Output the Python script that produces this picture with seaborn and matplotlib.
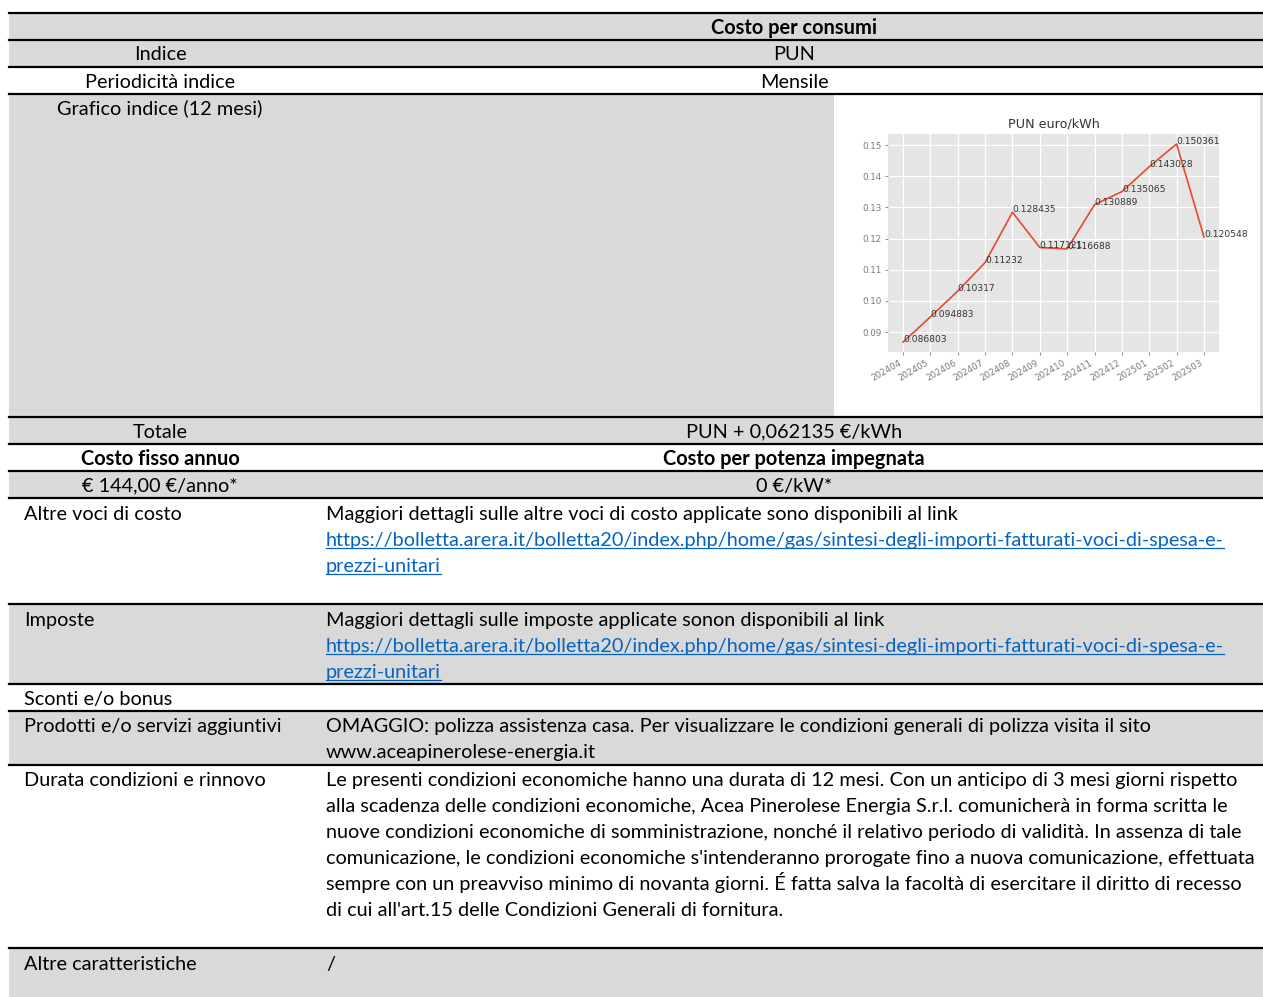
import matplotlib
matplotlib.use("Agg")
import matplotlib.pyplot as plt
import numpy as np
import pandas as pd
import seaborn as sns
from matplotlib.patches import Rectangle
from matplotlib.lines import Line2D

# ---------------- data ----------------
months = ["202404", "202405", "202406", "202407", "202408", "202409",
          "202410", "202411", "202412", "202501", "202502", "202503"]
pun = [0.086803, 0.094883, 0.10317, 0.11232, 0.128435, 0.117121,
       0.116688, 0.130889, 0.135065, 0.143028, 0.150361, 0.120548]
chart_title = "PUN euro/kWh"

header_right = "Costo per consumi"
centered_rows = [("Indice", "PUN"), ("Periodicità indice", "Mensile")]
graph_label = "Grafico indice (12 mesi)"
totale = ("Totale", "PUN + 0,062135 €/kWh")
bold_row = ("Costo fisso annuo", "Costo per potenza impegnata")
fixed_row = ("€ 144,00 €/anno*", "0 €/kW*")
link = "https://bolletta.arera.it/bolletta20/index.php/home/gas/sintesi-degli-importi-fatturati-voci-di-spesa-e-"
link2 = "prezzi-unitari"
altre_voci = ("Altre voci di costo",
              "Maggiori dettagli sulle altre voci di costo applicate sono disponibili al link")
imposte = ("Imposte", "Maggiori dettagli sulle imposte applicate sonon disponibili al link")
sconti = "Sconti e/o bonus"
prodotti = ("Prodotti e/o servizi aggiuntivi",
            ["OMAGGIO: polizza assistenza casa. Per visualizzare le condizioni generali di polizza visita il sito",
             "www.aceapinerolese-energia.it"])
durata = ("Durata condizioni e rinnovo",
          ["Le presenti condizioni economiche hanno una durata di 12 mesi. Con un anticipo di 3 mesi giorni rispetto",
           "alla scadenza delle condizioni economiche, Acea Pinerolese Energia S.r.l. comunicherà in forma scritta le",
           "nuove condizioni economiche di somministrazione, nonché il relativo periodo di validità. In assenza di tale",
           "comunicazione, le condizioni economiche s'intenderanno prorogate fino a nuova comunicazione, effettuata",
           "sempre con un preavviso minimo di novanta giorni. É fatta salva la facoltà di esercitare il diritto di recesso",
           "di cui all'art.15 delle Condizioni Generali di fornitura."])
altre_car = ("Altre caratteristiche", "/")

# ---------------- figure ----------------
W, H = 1263, 997
fig = plt.figure(figsize=(W / 100, H / 100), dpi=100)
ax = fig.add_axes([0, 0, 1, 1])
ax.set_xlim(0, W)
ax.set_ylim(H, 0)
ax.axis("off")

FONT = ["Lato", "DejaVu Sans"]
GREY = "#d9d9d9"
LINK = "#0563c1"

fig.canvas.draw()
R = fig.canvas.get_renderer()


def fit(s, target, weight="normal"):
    t = ax.text(0, 0, s, fontsize=10, family=FONT, fontweight=weight)
    w = t.get_window_extent(R).width
    t.remove()
    return 10 * target / w


FS = fit(altre_voci[1], 631)
FSB = fit(bold_row[1], 261, "bold")

# rows: (top, bottom, grey?)
rows = [(13, 40, True), (40, 67, True), (67, 94, False), (94, 417, True),
        (417, 444, True), (444, 471, False), (471, 498, True), (498, 604, False),
        (604, 684, True), (684, 711, False), (711, 765, True), (765, 948, False),
        (948, 997, True)]
X0, X1 = 9, 1263
for top, bot, g in rows:
    if g:
        ax.add_patch(Rectangle((X0, top), X1 - X0, bot - top, facecolor=GREY,
                               edgecolor="none", zorder=0))
# chart image area (white)
ax.add_patch(Rectangle((834, 95), 426, 321, facecolor="white", edgecolor="none", zorder=1))
for top, bot, g in rows:
    ax.add_line(Line2D([X0, X1], [top, top], color="black", lw=1.6, zorder=3))

LC, RC = 160, 794   # column centres
LX, RX = 24, 326    # left text positions
BOFF = 6.5          # baseline offset from line centre


def put(x, yc, s, ha="center", bold=False, color="#000000", underline=False):
    t = ax.text(x, yc + BOFF, s, ha=ha, va="baseline", family=FONT,
                fontsize=FSB if bold else FS, fontweight="bold" if bold else "normal",
                color=color, zorder=4)
    if underline:
        bb = t.get_window_extent(R)
        inv = ax.transData.inverted()
        (xa, _), (xb, _) = inv.transform([(bb.x0, 0), (bb.x1, 0)])
        ax.add_line(Line2D([xa, xb], [yc + BOFF + 2.2, yc + BOFF + 2.2], color=color, lw=0.9, zorder=4))
    return t


put(RC, 27, header_right, bold=True)
put(LC, 54, centered_rows[0][0]); put(RC, 54, centered_rows[0][1])
put(LC, 81, centered_rows[1][0]); put(RC, 81, centered_rows[1][1])
put(LC, 108, graph_label)
put(LC, 431, totale[0]); put(RC, 431, totale[1])
put(LC, 458, bold_row[0], bold=True); put(RC, 458, bold_row[1], bold=True)
put(LC, 485, fixed_row[0]); put(RC, 485, fixed_row[1])

put(LX, 513, altre_voci[0], ha="left")
put(RX, 513, altre_voci[1], ha="left")
put(RX, 539, link, ha="left", color=LINK, underline=True)
put(RX, 565, link2, ha="left", color=LINK, underline=True)

put(LX, 619, imposte[0], ha="left")
put(RX, 619, imposte[1], ha="left")
put(RX, 645, link, ha="left", color=LINK, underline=True)
put(RX, 671, link2, ha="left", color=LINK, underline=True)

put(LX, 698, sconti, ha="left")

put(LX, 725, prodotti[0], ha="left")
for i, s in enumerate(prodotti[1]):
    put(RX, 725 + 26 * i, s, ha="left")

put(LX, 779, durata[0], ha="left")
for i, s in enumerate(durata[1]):
    put(RX, 779 + 26 * i, s, ha="left")

put(LX, 963, altre_car[0], ha="left")
put(RX, 963, altre_car[1], ha="left")

# ---------------- embedded chart ----------------
cax = fig.add_axes([888 / W, (H - 352) / H, (1219 - 888) / W, (352 - 134) / H])
cax.set_facecolor("#e5e5e5")
for sp in cax.spines.values():
    sp.set_visible(False)
cax.grid(True, color="white", lw=0.9)
cax.set_axisbelow(True)

df = pd.DataFrame({"mese": months, "pun": pun})
sns.lineplot(data=df, x="mese", y="pun", ax=cax, color="#e24a33", lw=1.2, sort=False)
for i, (m, v) in enumerate(zip(months, pun)):
    cax.text(i, v, f"{v}", fontsize=6.6, color="#333333", ha="left", va="baseline",
             family="DejaVu Sans")
cax.set_xlabel("")
cax.set_ylabel("")
cax.set_title(chart_title, fontsize=9.2, color="#333333", pad=5, family="DejaVu Sans")
yt = [0.09, 0.10, 0.11, 0.12, 0.13, 0.14, 0.15]
cax.set_yticks(yt)
cax.set_yticklabels([f"{t:.2f}" for t in yt])
cax.tick_params(axis="both", labelsize=6.3, colors="#7a7a7a", length=2.5, width=0.6, pad=2)
plt.setp(cax.get_xticklabels(), rotation=30, ha="right", rotation_mode="default")

fig.savefig("out.png", dpi=100)
